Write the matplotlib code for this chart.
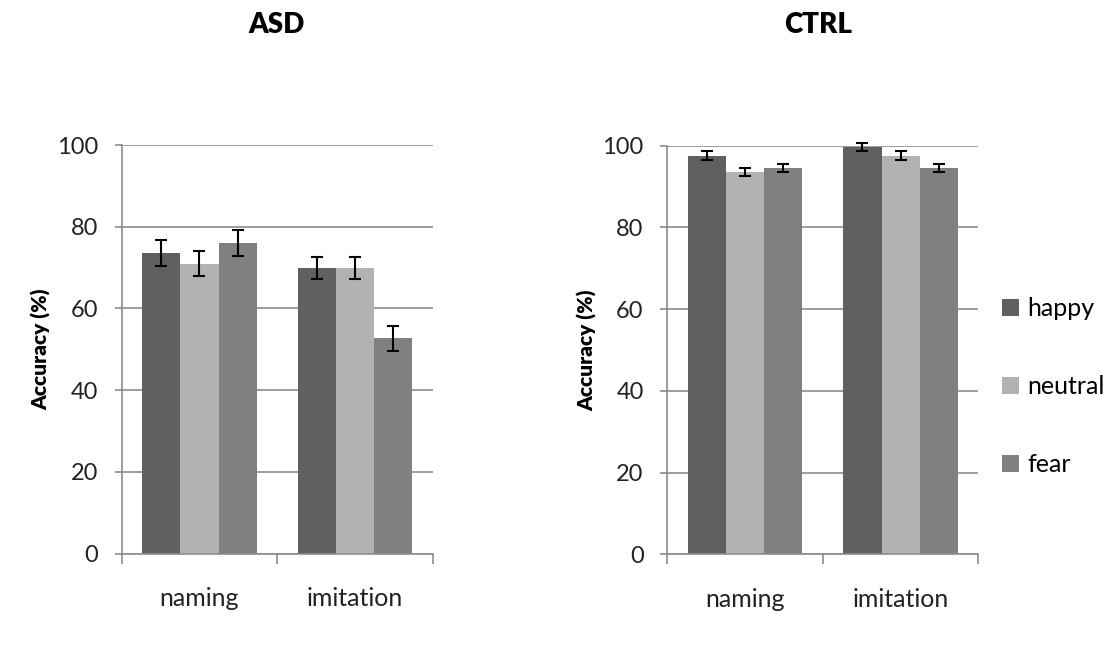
import matplotlib
matplotlib.use("Agg")
import matplotlib.pyplot as plt
import numpy as np

plt.rcParams['font.family'] = ['Lato', 'DejaVu Sans']

# data
tasks = ['naming', 'imitation']
emotions = ['happy', 'neutral', 'fear']
colors = ['#606060', '#b2b2b2', '#808080']

asd_mean = {'happy': [73.6, 69.9], 'neutral': [71.0, 69.9], 'fear': [76.0, 52.7]}
asd_err = {'happy': [3.1, 2.8], 'neutral': [3.0, 2.8], 'fear': [3.1, 3.0]}
ctrl_mean = {'happy': [97.6, 99.7], 'neutral': [93.6, 97.6], 'fear': [94.5, 94.5]}
ctrl_err = {'happy': [1.0, 1.0], 'neutral': [0.9, 1.0], 'fear': [1.0, 1.0]}

grey = '#8c8c8c'
fs = 16


def panel(ax, means, errs, title, title_x):
    x = np.arange(1, len(tasks) + 1)
    w = 0.245
    for i, emo in enumerate(emotions):
        ax.bar(x + (i - 1) * w, means[emo], w, color=colors[i], label=emo, zorder=2)
        eb = ax.errorbar(x + (i - 1) * w, means[emo], yerr=errs[emo], fmt='none',
                         ecolor='black', elinewidth=1.5, capsize=4, capthick=1.5, zorder=3)
        for art in eb.lines[1] + eb.lines[2]:
            art.set_clip_on(False)
    ax.set_xlim(0.5, len(tasks) + 0.5)
    ax.set_ylim(0, 100)
    ax.set_yticks(np.arange(0, 101, 20))
    ax.yaxis.grid(True, color=grey, linewidth=1.2, zorder=0)
    ax.set_axisbelow(True)
    for s in ['top', 'right']:
        ax.spines[s].set_visible(False)
    for s in ['left', 'bottom']:
        ax.spines[s].set_color(grey)
        ax.spines[s].set_linewidth(1.2)
    ax.set_xticks([0.5, 1.5, 2.5])
    ax.set_xticklabels([])
    ax.set_xticks(x, minor=True)
    ax.set_xticklabels(tasks, minor=True, fontsize=fs + 2, color='#222222')
    ax.tick_params(axis='x', which='major', length=7, width=1.2, color=grey, direction='out')
    ax.tick_params(axis='x', which='minor', length=0, pad=24)
    ax.tick_params(axis='y', length=5, width=1.2, color=grey, pad=12,
                   labelsize=fs + 1, labelcolor='#222222')
    ax.set_ylabel('Accuracy (%)', fontsize=fs - 1, fontweight='heavy')
    ax.yaxis.set_label_coords(-0.225, 0.5)
    fig.text(title_x, 1 - 25 / 652, title, ha='center', va='center',
             fontsize=fs + 4, fontweight='heavy')


fig = plt.figure(figsize=(11.11, 6.52), dpi=100)
ax1 = fig.add_axes([0.1095, 0.151, 0.2802, 0.6265])
ax2 = fig.add_axes([0.6006, 0.150, 0.2800, 0.6265])

panel(ax1, asd_mean, asd_err, 'ASD', 277 / 1111)
panel(ax2, ctrl_mean, ctrl_err, 'CTRL', 818 / 1111)

handles, labels = ax2.get_legend_handles_labels()
fig.legend(handles, labels, loc='center left', bbox_to_anchor=(0.882, 1 - 387 / 652),
           frameon=False, fontsize=fs + 2, handlelength=0.65, handleheight=0.65,
           handletextpad=0.35, labelspacing=2.2)

fig.savefig('out.png', dpi=100)
